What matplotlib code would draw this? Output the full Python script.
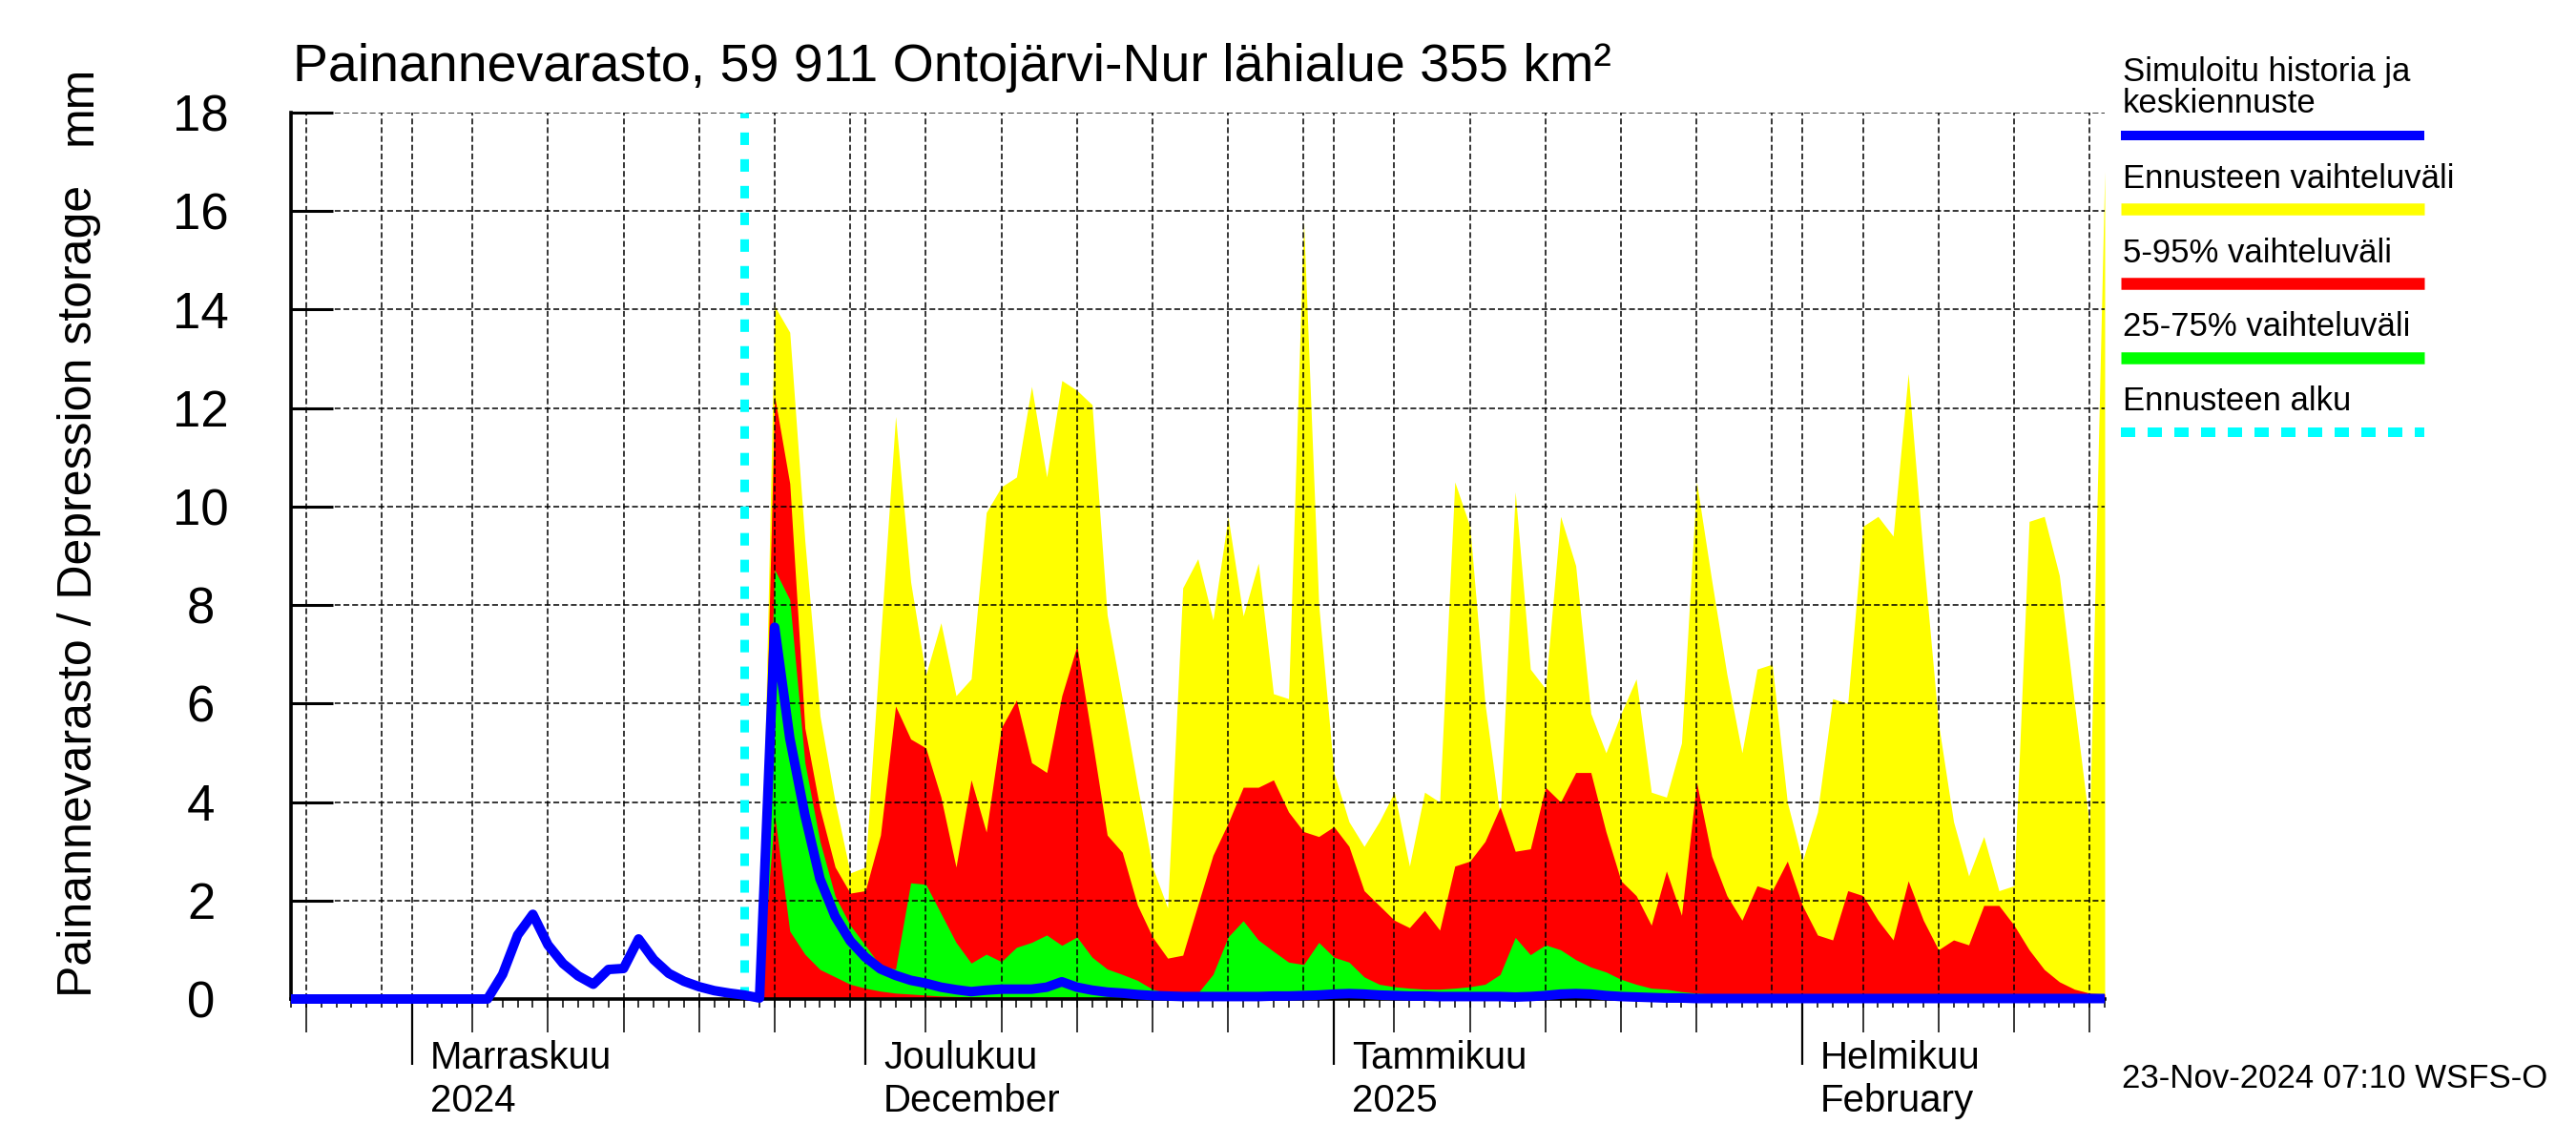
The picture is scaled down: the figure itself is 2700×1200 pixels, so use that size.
import datetime as dt
import matplotlib
matplotlib.use("Agg")
import matplotlib.pyplot as plt
import matplotlib.dates as mdates
from matplotlib.lines import Line2D
from matplotlib.ticker import FixedLocator

plt.rcParams['font.family'] = ['Liberation Sans', 'DejaVu Sans']

# --- data -------------------------------------------------------------
first_day = dt.date(2024, 10, 24)
forecast_start = dt.date(2024, 11, 23)
last_day = dt.date(2025, 2, 21)

# simulated history, Oct 24 .. Nov 23
history = [0, 0, 0, 0, 0, 0, 0, 0, 0, 0, 0, 0, 0, 0,
           0.5, 1.3, 1.72, 1.1, 0.72, 0.47, 0.3, 0.6, 0.62, 1.22,
           0.8, 0.52, 0.36, 0.25, 0.17, 0.12, 0.08]

# forecast, Nov 24 .. Feb 21 (monthly chunks)
median = (
    [0.02, 7.55, 5.3, 3.74, 2.44, 1.68, 1.18]
    + [0.85, 0.61, 0.48, 0.38, 0.32, 0.24, 0.19, 0.15, 0.18, 0.2,
       0.2, 0.2, 0.24, 0.35, 0.24, 0.18, 0.14, 0.12, 0.09, 0.07,
       0.06, 0.05, 0.05, 0.05, 0.05, 0.05, 0.05, 0.06, 0.06, 0.07, 0.08]
    + [0.1, 0.11, 0.1, 0.08, 0.07, 0.06, 0.06, 0.05, 0.05, 0.05,
       0.05, 0.05, 0.04, 0.05, 0.07, 0.1, 0.11, 0.1, 0.07, 0.05,
       0.04, 0.03, 0.02, 0.02, 0.01, 0.01, 0.01, 0.01, 0.01, 0.01, 0.01]
    + [0.01, 0.01, 0.01, 0.01, 0.01, 0.01, 0.01, 0.01, 0.01, 0.01,
       0.01, 0.01, 0.01, 0.01, 0.01, 0.01, 0.01, 0.01, 0.01, 0.01, 0.01]
)
q_max = (
    [0, 14.07, 13.54, 9.3, 5.75, 4.0, 2.56]
    + [2.68, 7.3, 11.83, 8.47, 6.58, 7.64, 6.16, 6.5, 9.88, 10.4,
       10.6, 12.44, 10.6, 12.56, 12.36, 12.07, 7.8, 6.1, 4.33, 2.68,
       1.85, 8.35, 8.94, 7.7, 9.79, 7.78, 8.85, 6.2, 6.1, 15.8, 8.0]
    + [4.6, 3.6, 3.1, 3.6, 4.2, 2.7, 4.2, 4.0, 10.5, 9.6,
       6.0, 3.7, 10.3, 6.7, 6.3, 9.8, 8.8, 5.8, 5.0, 5.8,
       6.5, 4.2, 4.1, 5.2, 10.5, 8.5, 6.6, 5.0, 6.7, 6.8, 4.0]
    + [2.8, 3.8, 6.1, 6.0, 9.6, 9.8, 9.4, 12.7, 9.0, 5.6,
       3.6, 2.5, 3.3, 2.2, 2.3, 9.7, 9.8, 8.6, 6.0, 3.5, 16.8]
)
q95 = (
    [0, 12.24, 10.47, 5.5, 3.86, 2.68, 2.15]
    + [2.2, 3.33, 5.95, 5.28, 5.1, 4.1, 2.68, 4.45, 3.39, 5.51,
       6.07, 4.8, 4.6, 6.16, 7.17, 5.28, 3.33, 2.98, 1.91, 1.26,
       0.83, 0.89, 1.91, 2.92, 3.57, 4.3, 4.3, 4.45, 3.8, 3.4, 3.3]
    + [3.5, 3.1, 2.2, 1.9, 1.6, 1.45, 1.8, 1.4, 2.7, 2.8,
       3.2, 3.9, 3.0, 3.05, 4.3, 4.0, 4.6, 4.6, 3.4, 2.4,
       2.1, 1.5, 2.6, 1.7, 4.4, 2.9, 2.1, 1.6, 2.3, 2.2, 2.8]
    + [1.9, 1.3, 1.2, 2.2, 2.1, 1.6, 1.2, 2.4, 1.6, 1.0,
       1.2, 1.1, 1.9, 1.9, 1.5, 1.0, 0.6, 0.35, 0.2, 0.12, 0.1]
)
q75 = (
    [0, 8.72, 8.11, 4.8, 3.2, 2.09, 1.5]
    + [1.09, 0.67, 0.61, 2.36, 2.33, 1.74, 1.15, 0.73, 0.91, 0.76,
       1.05, 1.15, 1.3, 1.09, 1.26, 0.85, 0.61, 0.5, 0.38, 0.2,
       0.12, 0.1, 0.12, 0.5, 1.26, 1.59, 1.2, 0.97, 0.75, 0.7, 1.15]
    + [0.85, 0.75, 0.45, 0.3, 0.25, 0.22, 0.2, 0.2, 0.22, 0.25,
       0.3, 0.5, 1.25, 0.9, 1.1, 1.0, 0.8, 0.65, 0.55, 0.4,
       0.3, 0.22, 0.2, 0.15, 0.12, 0.1, 0.08, 0.07, 0.1, 0.07, 0.06]
    + [0.06, 0.06, 0.05, 0.05, 0.05, 0.05, 0.05, 0.05, 0.05, 0.05,
       0.05, 0.05, 0.06, 0.1, 0.05, 0.05, 0.04, 0.04, 0.04, 0.04, 0.04]
)
q25 = (
    [0, 3.74, 1.38, 0.91, 0.6, 0.45, 0.3]
    + [0.22, 0.16, 0.12, 0.1, 0.08, 0.06, 0.05, 0.04, 0.04, 0.04,
       0.04, 0.04, 0.04, 0.04, 0.04, 0.03, 0.03, 0.03, 0.03, 0.03,
       0.02, 0.02, 0.02, 0.02, 0.02, 0.02, 0.02, 0.02, 0.02, 0.02, 0.02]
    + [0.02, 0.02, 0.02, 0.02, 0.02, 0.02, 0.02, 0.02, 0.02, 0.02,
       0.02, 0.02, 0.02, 0.02, 0.02, 0.02, 0.02, 0.02, 0.02, 0.02,
       0.01, 0.01, 0.01, 0.01, 0.01, 0.01, 0.01, 0.01, 0.01, 0.01, 0.01]
    + [0.01, 0.01, 0.01, 0.01, 0.01, 0.01, 0.01, 0.01, 0.01, 0.01,
       0.01, 0.01, 0.01, 0.01, 0.01, 0.01, 0.01, 0.01, 0.01, 0.01, 0.01]
)

month_starts = [dt.date(2024, 11, 1), dt.date(2024, 12, 1),
                dt.date(2025, 1, 1), dt.date(2025, 2, 1)]
month_fi = ["Marraskuu", "Joulukuu", "Tammikuu", "Helmikuu"]
month_en = ["2024", "December", "2025", "February"]

title = "Painannevarasto, 59 911 Ontojärvi-Nur lähialue 355 km²"
ylabel = "Painannevarasto / Depression storage"
stamp = "23-Nov-2024 07:10 WSFS-O"
legend_labels = ["Simuloitu historia ja\nkeskiennuste", "Ennusteen vaihteluväli",
                 "5-95% vaihteluväli", "25-75% vaihteluväli", "Ennusteen alku"]

# --- dates --------------------------------------------------------------
n_days = (last_day - first_day).days + 1
days = [first_day + dt.timedelta(days=i) for i in range(n_days)]
fc_days = days[len(history):]
blue = history + median

# --- figure --------------------------------------------------------------
W, H = 2700, 1200
fig = plt.figure(figsize=(27, 12), dpi=100)
ax = fig.add_axes([305 / W, 1 - 1047 / H, (2206 - 305) / W, (1047 - 118) / H])

ax.fill_between(fc_days, 0, q_max, color="#ffff00", lw=0, zorder=1)
ax.fill_between(fc_days, 0, q95, color="#ff0000", lw=0, zorder=1.1)
ax.fill_between(fc_days, q25, q75, color="#00ff00", lw=0, zorder=1.2)
ax.axvline(forecast_start, color="#00ffff", lw=6.5, linestyle=(0, (1.45, 1.65)),
           zorder=3)
ax.plot(days, blue, color="#0000ff", lw=7.2, solid_capstyle="butt",
        solid_joinstyle="round", clip_on=False, zorder=4)

ax.set_xlim(first_day, last_day)
ax.set_ylim(0, 18)

for s in ("top", "right"):
    ax.spines[s].set_visible(False)
for s in ("left", "bottom"):
    ax.spines[s].set_linewidth(2.6)
    ax.spines[s].set_zorder(3.5)

# y axis
ax.set_yticks(range(0, 19, 2))
ax.tick_params(axis="y", direction="in", length=31.7, width=2.2, labelsize=38,
               pad=68)
for lab in ax.get_yticklabels():
    lab.set_ha("center")

# x axis: grid lines at 1,5,10,..,30 ; daily minor ticks
ax.xaxis.set_major_locator(mdates.DayLocator(bymonthday=[1, 5, 10, 15, 20, 25, 30]))
ax.xaxis.set_minor_locator(mdates.DayLocator())
ax.xaxis.remove_overlapping_locs = False
ax.tick_params(axis="x", which="major", length=0, labelbottom=False)
ax.tick_params(axis="x", which="minor", direction="out", length=6.5, width=1.1)
ax.grid(True, which="major", color="black", linestyle=(0, (4, 2)), linewidth=1.1)
ax.set_axisbelow(False)

five_days = [d for d in days if d.day in (5, 10, 15, 20, 25)]
sec5 = ax.secondary_xaxis("bottom")
sec5.xaxis.set_major_locator(FixedLocator(mdates.date2num(five_days)))
sec5.tick_params(axis="x", direction="out", length=25, width=1.1, labelbottom=False)
sec5.spines["bottom"].set_visible(False)

secm = ax.secondary_xaxis("bottom")
secm.xaxis.set_major_locator(FixedLocator(mdates.date2num(month_starts)))
secm.tick_params(axis="x", direction="out", length=50, width=1.6, labelbottom=False)
secm.spines["bottom"].set_visible(False)

for d, fi, en in zip(month_starts, month_fi, month_en):
    ax.annotate(fi, xy=(d, 0), xycoords=("data", "axes fraction"),
                xytext=(19, -73), textcoords="offset pixels",
                fontsize=29, va="baseline", ha="left", annotation_clip=False)
    ax.annotate(en, xy=(d, 0), xycoords=("data", "axes fraction"),
                xytext=(19, -118), textcoords="offset pixels",
                fontsize=29, va="baseline", ha="left", annotation_clip=False)

# texts
fig.text(307 / W, 1 - 85 / H, title, fontsize=40, va="baseline", ha="left")
fig.text(83 / W, 1 - 1045 / H, ylabel, fontsize=36, rotation=90,
         ha="center", va="bottom")
fig.text(83 / W, 1 - 69 / H, "mm", fontsize=36, rotation=90,
         ha="center", va="top")
fig.text(2224 / W, 1 - 1140 / H, stamp, fontsize=25, va="baseline", ha="left")

# legend drawn at the right
lx0, lx1, tx = 2223 / W, 2541 / W, 2225 / W
leg_lines = [
    (142, "#0000ff", 7.2, "-"),
    (219.5, "#ffff00", 9.0, "-"),
    (297, "#ff0000", 9.0, "-"),
    (375, "#00ff00", 9.0, "-"),
    (453, "#00ffff", 7.2, (0, (1.5, 1.3))),
]
leg_text_base = [118, 197, 275, 352, 430]
for (ly, col, lw, ls), tb, lab in zip(leg_lines, leg_text_base, legend_labels):
    fig.add_artist(Line2D([lx0, lx1], [1 - ly / H, 1 - ly / H], color=col, lw=lw,
                          linestyle=ls, solid_capstyle="butt",
                          dash_capstyle="butt", transform=fig.transFigure))
    fig.text(tx, 1 - tb / H, lab, fontsize=25, va="baseline", ha="left",
             linespacing=1.0)

fig.savefig("out.png", dpi=100)
